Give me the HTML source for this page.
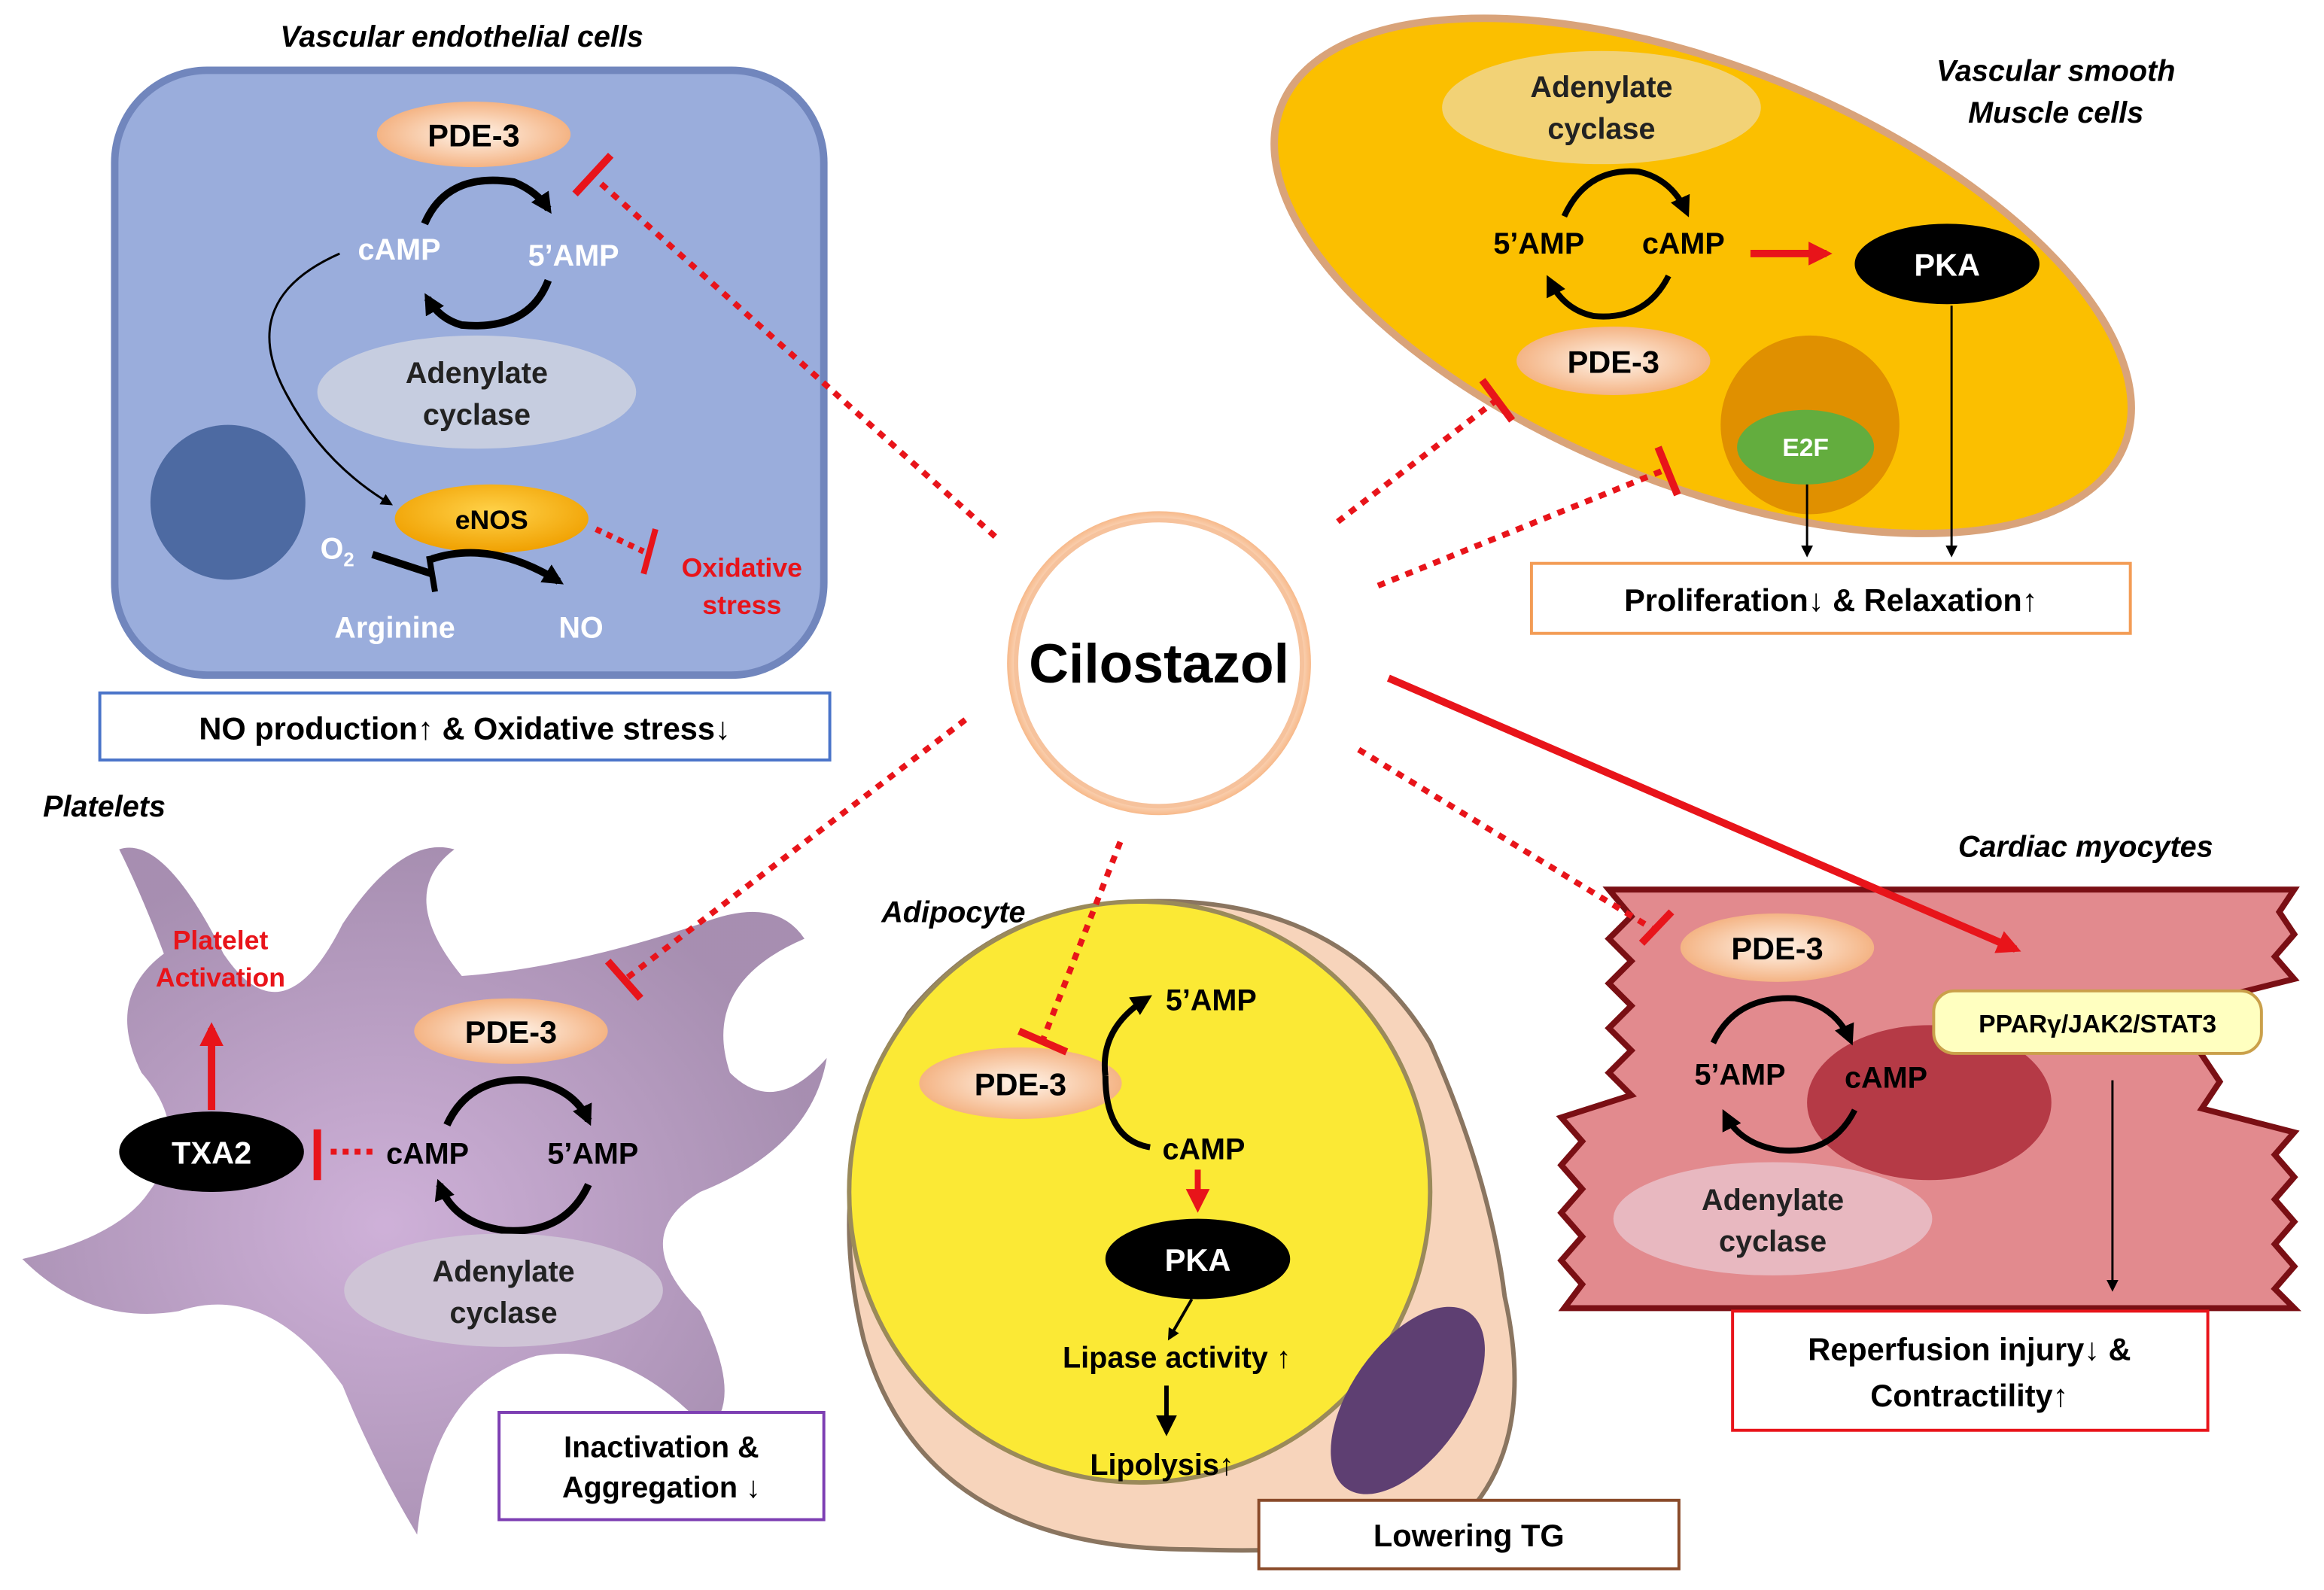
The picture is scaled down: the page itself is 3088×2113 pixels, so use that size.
<!DOCTYPE html>
<html><head><meta charset="utf-8"><style>
html,body{margin:0;padding:0;background:#fff;}
svg{display:block;}
text{font-family:"Liberation Sans",Arial,sans-serif;font-weight:bold;}
</style></head><body>
<svg width="3088" height="2113" viewBox="0 0 1560 1067" xmlns="http://www.w3.org/2000/svg">
<defs>
<radialGradient id="pde" cx="50%" cy="50%" r="60%"><stop offset="0" stop-color="#fff4ea"/><stop offset="1" stop-color="#f2a770"/></radialGradient>
<radialGradient id="enos" cx="50%" cy="40%" r="60%"><stop offset="0" stop-color="#ffd24a"/><stop offset="1" stop-color="#f0a000"/></radialGradient>
<radialGradient id="cil" cx="50%" cy="50%" r="50%"><stop offset="0.85" stop-color="#fff"/><stop offset="1" stop-color="#f7b98a"/></radialGradient>
<radialGradient id="plt" cx="45%" cy="55%" r="55%"><stop offset="0" stop-color="#c9a8d4"/><stop offset="1" stop-color="#9d82a8"/></radialGradient>
<marker id="ab" markerWidth="8" markerHeight="8" refX="6" refY="4" orient="auto" markerUnits="userSpaceOnUse"><path d="M0,0 L8,4 L0,8z" fill="#000"/></marker>
<marker id="abk" markerWidth="14" markerHeight="14" refX="10" refY="7" orient="auto" markerUnits="userSpaceOnUse"><path d="M0,0 L14,7 L0,14z" fill="#000"/></marker>
<marker id="ar" markerWidth="16" markerHeight="16" refX="12" refY="8" orient="auto" markerUnits="userSpaceOnUse"><path d="M0,0 L16,8 L0,16z" fill="#e8141a"/></marker>
</defs>

<!-- Endothelial -->
<text x="310" y="31" font-size="20" font-style="italic" text-anchor="middle">Vascular endothelial cells</text>
<rect x="77" y="47" width="476" height="406" rx="62" fill="#9aaddc" stroke="#7186bd" stroke-width="5"/>
<ellipse cx="318" cy="90" rx="65" ry="22" fill="url(#pde)"/>
<text x="318" y="98" font-size="21" text-anchor="middle">PDE-3</text>
<path d="M285,150 Q300,115 345,122 Q360,128 368,140" fill="none" stroke="#000" stroke-width="5" marker-end="url(#abk)"/>
<path d="M368,188 Q355,222 310,218 Q295,214 287,200" fill="none" stroke="#000" stroke-width="5" marker-end="url(#abk)"/>
<text x="268" y="174" font-size="20" fill="#fff" text-anchor="middle">cAMP</text>
<text x="385" y="178" font-size="20" fill="#fff" text-anchor="middle">5’AMP</text>
<ellipse cx="320" cy="263" rx="107" ry="38" fill="#c6cde0"/>
<text x="320" y="257" font-size="20" text-anchor="middle" fill="#222">Adenylate</text>
<text x="320" y="285" font-size="20" text-anchor="middle" fill="#222">cyclase</text>
<circle cx="153" cy="337" r="52" fill="#4d6aa2"/>
<path d="M228,170 Q160,200 190,260 Q215,310 262,338" fill="none" stroke="#000" stroke-width="1.5" marker-end="url(#ab)"/>
<ellipse cx="330" cy="348" rx="65" ry="23" fill="url(#enos)"/>
<text x="330" y="355" font-size="18" text-anchor="middle">eNOS</text>
<path d="M290,375 Q330,362 375,390" fill="none" stroke="#000" stroke-width="5" marker-end="url(#abk)"/>
<path d="M250,372 L290,385" stroke="#000" stroke-width="5"/>
<path d="M288,373 L292,397" stroke="#000" stroke-width="4"/>
<text x="215" y="375" font-size="20" fill="#fff">O<tspan font-size="13" dy="5">2</tspan></text>
<text x="265" y="428" font-size="20" fill="#fff" text-anchor="middle">Arginine</text>
<text x="390" y="428" font-size="20" fill="#fff" text-anchor="middle">NO</text>
<path d="M400,355 L432,370" stroke="#e8141a" stroke-width="4" stroke-dasharray="4,4"/>
<path d="M440,355 L432,385" stroke="#e8141a" stroke-width="4"/>
<text x="498" y="387" font-size="18" fill="#e8141a" text-anchor="middle">Oxidative</text>
<text x="498" y="412" font-size="18" fill="#e8141a" text-anchor="middle">stress</text>
<rect x="67" y="465" width="490" height="45" fill="#fff" stroke="#4a74c9" stroke-width="2"/>
<text x="312" y="496" font-size="21" text-anchor="middle">NO production↑ &amp; Oxidative stress↓</text>

<!-- VSMC -->
<ellipse cx="1143" cy="185" rx="305" ry="140" transform="rotate(22 1143 185)" fill="#fbbf00" stroke="#d9a37a" stroke-width="5"/>
<text x="1380" y="54" font-size="20" font-style="italic" text-anchor="middle">Vascular smooth</text>
<text x="1380" y="82" font-size="20" font-style="italic" text-anchor="middle">Muscle cells</text>
<ellipse cx="1075" cy="72" rx="107" ry="38" fill="#f2d276"/>
<text x="1075" y="65" font-size="20" text-anchor="middle" fill="#222">Adenylate</text>
<text x="1075" y="93" font-size="20" text-anchor="middle" fill="#222">cyclase</text>
<path d="M1050,145 Q1065,112 1100,115 Q1122,120 1132,142" fill="none" stroke="#000" stroke-width="4" marker-end="url(#abk)"/>
<path d="M1120,185 Q1105,215 1070,212 Q1050,208 1040,188" fill="none" stroke="#000" stroke-width="4" marker-end="url(#abk)"/>
<text x="1033" y="170" font-size="20" text-anchor="middle">5’AMP</text>
<text x="1130" y="170" font-size="20" text-anchor="middle">cAMP</text>
<path d="M1175,170 L1226,170" stroke="#e8141a" stroke-width="5" marker-end="url(#ar)"/>
<ellipse cx="1307" cy="177" rx="62" ry="27" fill="#000"/>
<text x="1307" y="185" font-size="21" fill="#fff" text-anchor="middle">PKA</text>
<ellipse cx="1083" cy="242" rx="65" ry="23" fill="url(#pde)"/>
<text x="1083" y="250" font-size="21" text-anchor="middle">PDE-3</text>
<circle cx="1215" cy="285" r="60" fill="#e09000"/>
<ellipse cx="1212" cy="300" rx="46" ry="25" fill="#63ad3e"/>
<text x="1212" y="306" font-size="17" fill="#fff" text-anchor="middle">E2F</text>
<path d="M1213,325 L1213,372" stroke="#000" stroke-width="1.5" marker-end="url(#ab)"/>
<path d="M1310,205 L1310,372" stroke="#000" stroke-width="1.5" marker-end="url(#ab)"/>
<rect x="1028" y="378" width="402" height="47" fill="#fff" stroke="#f39c55" stroke-width="2"/>
<text x="1229" y="410" font-size="21" text-anchor="middle">Proliferation↓ &amp; Relaxation↑</text>

<!-- Platelets -->
<text x="70" y="548" font-size="20" font-style="italic" text-anchor="middle">Platelets</text>
<path d="M80,570 Q110,560 150,640 Q190,700 230,620 Q270,560 305,570 Q265,600 310,655 Q380,650 470,620 Q520,600 540,630 Q470,660 490,720 Q520,750 555,710 Q545,770 470,800 Q420,830 470,880 Q500,940 475,960 Q420,900 360,910 Q290,930 280,1030 Q250,980 230,930 Q180,860 120,880 Q60,890 15,845 Q80,830 100,800 Q130,760 95,720 Q70,670 110,640 Q95,600 80,570Z" fill="url(#plt)" opacity="0.9"/>
<ellipse cx="343" cy="692" rx="65" ry="22" fill="url(#pde)"/>
<text x="343" y="700" font-size="21" text-anchor="middle">PDE-3</text>
<path d="M300,755 Q315,722 355,725 Q385,730 395,752" fill="none" stroke="#000" stroke-width="5" marker-end="url(#abk)"/>
<path d="M395,795 Q380,828 340,826 Q305,822 295,795" fill="none" stroke="#000" stroke-width="5" marker-end="url(#abk)"/>
<text x="287" y="781" font-size="20" text-anchor="middle">cAMP</text>
<text x="398" y="781" font-size="20" text-anchor="middle">5’AMP</text>
<ellipse cx="338" cy="866" rx="107" ry="38" fill="#cfc4d6"/>
<text x="338" y="860" font-size="20" text-anchor="middle" fill="#222">Adenylate</text>
<text x="338" y="888" font-size="20" text-anchor="middle" fill="#222">cyclase</text>
<ellipse cx="142" cy="773" rx="62" ry="27" fill="#000"/>
<text x="142" y="781" font-size="21" fill="#fff" text-anchor="middle">TXA2</text>
<path d="M250,773 L218,773" stroke="#e8141a" stroke-width="4" stroke-dasharray="4,4"/>
<path d="M213,758 L213,792" stroke="#e8141a" stroke-width="5"/>
<path d="M142,745 L142,690" stroke="#e8141a" stroke-width="5" marker-end="url(#ar)"/>
<text x="148" y="637" font-size="18" fill="#e8141a" text-anchor="middle">Platelet</text>
<text x="148" y="662" font-size="18" fill="#e8141a" text-anchor="middle">Activation</text>
<rect x="335" y="948" width="218" height="72" fill="#fff" stroke="#7d3fb3" stroke-width="2"/>
<text x="444" y="978" font-size="20" text-anchor="middle">Inactivation &amp;</text>
<text x="444" y="1005" font-size="20" text-anchor="middle">Aggregation ↓</text>

<!-- Adipocyte -->
<text x="640" y="619" font-size="20" font-style="italic" text-anchor="middle">Adipocyte</text>
<path d="M765,605 Q900,600 960,700 Q1000,790 1010,870 Q1030,960 990,1010 Q940,1045 800,1040 Q620,1040 580,900 Q550,780 610,680 Q670,607 765,605Z" fill="#f7d4bb" stroke="#8a7560" stroke-width="3"/>
<circle cx="765" cy="800" r="195" fill="#fbe935" stroke="#9a8a5a" stroke-width="3"/>
<ellipse cx="945" cy="940" rx="38" ry="72" transform="rotate(35 945 940)" fill="#5e3f72"/>
<ellipse cx="685" cy="727" rx="68" ry="24" fill="url(#pde)"/>
<text x="685" y="735" font-size="21" text-anchor="middle">PDE-3</text>
<path d="M742,722 Q738,690 770,670" fill="none" stroke="#000" stroke-width="4" marker-end="url(#abk)"/>
<path d="M742,722 Q742,765 772,770" fill="none" stroke="#000" stroke-width="4"/>
<text x="813" y="678" font-size="20" text-anchor="middle">5’AMP</text>
<text x="808" y="778" font-size="20" text-anchor="middle">cAMP</text>
<path d="M804,785 L804,810" stroke="#e8141a" stroke-width="4" marker-end="url(#ar)"/>
<ellipse cx="804" cy="845" rx="62" ry="27" fill="#000"/>
<text x="804" y="853" font-size="21" fill="#fff" text-anchor="middle">PKA</text>
<path d="M800,872 L785,898" stroke="#000" stroke-width="2" marker-end="url(#ab)"/>
<text x="790" y="918" font-size="20" text-anchor="middle">Lipase activity ↑</text>
<path d="M783,930 L783,960" stroke="#000" stroke-width="3" marker-end="url(#abk)"/>
<text x="780" y="990" font-size="20" text-anchor="middle">Lipolysis↑</text>
<rect x="845" y="1007" width="282" height="46" fill="#fff" stroke="#8a4b2a" stroke-width="2"/>
<text x="986" y="1038" font-size="21" text-anchor="middle">Lowering TG</text>

<!-- Cardiac -->
<text x="1400" y="575" font-size="20" font-style="italic" text-anchor="middle">Cardiac myocytes</text>
<path d="M1080,597 L1540,597 L1530,612 L1540,627 L1527,642 L1540,657 L1480,672 L1490,690 L1478,708 L1490,726 L1478,744 L1540,760 L1527,775 L1540,790 L1527,805 L1540,820 L1527,835 L1540,850 L1527,865 L1540,878 L1050,878 L1062,862 L1048,846 L1062,830 L1048,814 L1062,798 L1048,782 L1062,766 L1048,750 L1095,735 L1080,720 L1095,705 L1080,690 L1095,675 L1080,660 L1095,645 L1080,630 L1095,615 Z" fill="#e28a8e" stroke="#7a0f14" stroke-width="4"/>
<ellipse cx="1295" cy="740" rx="82" ry="52" fill="#b53a46"/>
<ellipse cx="1193" cy="636" rx="65" ry="23" fill="url(#pde)"/>
<text x="1193" y="644" font-size="21" text-anchor="middle">PDE-3</text>
<rect x="1298" y="665" width="220" height="42" rx="14" fill="#ffffc0" stroke="#caa04a" stroke-width="2"/>
<text x="1408" y="693" font-size="17" text-anchor="middle">PPARγ/JAK2/STAT3</text>
<path d="M1150,700 Q1165,668 1205,670 Q1232,675 1242,698" fill="none" stroke="#000" stroke-width="4" marker-end="url(#abk)"/>
<path d="M1245,745 Q1230,775 1195,772 Q1168,768 1158,748" fill="none" stroke="#000" stroke-width="4" marker-end="url(#abk)"/>
<text x="1168" y="728" font-size="20" text-anchor="middle">5’AMP</text>
<text x="1266" y="730" font-size="20" text-anchor="middle">cAMP</text>
<ellipse cx="1190" cy="818" rx="107" ry="38" fill="#e8b8c0"/>
<text x="1190" y="812" font-size="20" text-anchor="middle" fill="#222">Adenylate</text>
<text x="1190" y="840" font-size="20" text-anchor="middle" fill="#222">cyclase</text>
<path d="M1418,725 L1418,865" stroke="#000" stroke-width="1.5" marker-end="url(#ab)"/>
<rect x="1163" y="880" width="319" height="80" fill="#fff" stroke="#e8141a" stroke-width="2"/>
<text x="1322" y="913" font-size="21" text-anchor="middle">Reperfusion injury↓ &amp;</text>
<text x="1322" y="944" font-size="21" text-anchor="middle">Contractility↑</text>

<!-- Cilostazol connectors -->
<g stroke="#e8141a" stroke-width="4" stroke-dasharray="5,5" fill="none">
<path d="M668,360 L400,120"/>
<path d="M898,350 L1005,268"/>
<path d="M925,393 L1118,315"/>
<path d="M648,483 L420,657"/>
<path d="M752,565 L700,698"/>
<path d="M912,503 L1112,625"/>
</g>
<g stroke="#e8141a" stroke-width="5">
<path d="M386,130 L410,104"/>
<path d="M995,255 L1015,282"/>
<path d="M1113,300 L1126,332"/>
<path d="M408,645 L430,670"/>
<path d="M684,692 L716,706"/>
<path d="M1102,633 L1122,612"/>
</g>
<path d="M932,455 L1353,637" stroke="#e8141a" stroke-width="5" marker-end="url(#ar)"/>
<circle cx="778" cy="445" r="102" fill="url(#cil)"/>
<circle cx="778" cy="445" r="96" fill="#fff" stroke="#f6c29c" stroke-width="3"/>
<text x="778" y="458" font-size="37" text-anchor="middle">Cilostazol</text>
</svg>
</body></html>
